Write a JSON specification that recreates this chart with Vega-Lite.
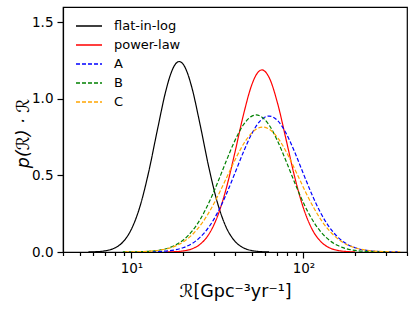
{
  "$schema": "https://vega.github.io/schema/vega-lite/v6.json",
  "width": 344,
  "height": 245,
  "autosize": {"type": "none"},
  "padding": {"left": 63, "top": 7, "right": 8, "bottom": 60},
  "background": "white",
  "config": {
    "view": {"stroke": "black", "strokeWidth": 1.2},
    "axis": {
      "domainColor": "black", "domainWidth": 1.2, "tickColor": "black", "tickWidth": 1.2,
      "labelColor": "black", "titleColor": "black", "labelFont": "DejaVu Sans", "titleFont": "DejaVu Sans",
      "labelFontSize": 13.5, "titleFontSize": 17.5, "titleFontWeight": "normal", "grid": false, "zindex": 1
    },
    "legend": {"labelFont": "DejaVu Sans", "labelFontSize": 13, "labelColor": "black"}
  },
  "data": {"values": [
    {"series": "flat-in-log", "R": 5.623, "p": 0.0006},
    {"series": "flat-in-log", "R": 6.310, "p": 0.0024},
    {"series": "flat-in-log", "R": 7.079, "p": 0.0082},
    {"series": "flat-in-log", "R": 7.943, "p": 0.0247},
    {"series": "flat-in-log", "R": 8.913, "p": 0.0650},
    {"series": "flat-in-log", "R": 10.00, "p": 0.1493},
    {"series": "flat-in-log", "R": 11.22, "p": 0.2988},
    {"series": "flat-in-log", "R": 12.59, "p": 0.5216},
    {"series": "flat-in-log", "R": 14.13, "p": 0.7937},
    {"series": "flat-in-log", "R": 15.85, "p": 1.0528},
    {"series": "flat-in-log", "R": 16.79, "p": 1.1517},
    {"series": "flat-in-log", "R": 17.78, "p": 1.2175},
    {"series": "flat-in-log", "R": 18.97, "p": 1.244},
    {"series": "flat-in-log", "R": 19.95, "p": 1.2276},
    {"series": "flat-in-log", "R": 21.13, "p": 1.1708},
    {"series": "flat-in-log", "R": 22.39, "p": 1.0790},
    {"series": "flat-in-log", "R": 25.12, "p": 0.8270},
    {"series": "flat-in-log", "R": 28.18, "p": 0.5525},
    {"series": "flat-in-log", "R": 31.62, "p": 0.3218},
    {"series": "flat-in-log", "R": 35.48, "p": 0.1634},
    {"series": "flat-in-log", "R": 39.81, "p": 0.0723},
    {"series": "flat-in-log", "R": 44.67, "p": 0.0279},
    {"series": "flat-in-log", "R": 50.12, "p": 0.0094},
    {"series": "flat-in-log", "R": 56.23, "p": 0.0028},
    {"series": "flat-in-log", "R": 63.10, "p": 0.0007},

    {"series": "power-law", "R": 15.85, "p": 0.0006},
    {"series": "power-law", "R": 17.78, "p": 0.0021},
    {"series": "power-law", "R": 19.95, "p": 0.0069},
    {"series": "power-law", "R": 22.39, "p": 0.0200},
    {"series": "power-law", "R": 25.12, "p": 0.0512},
    {"series": "power-law", "R": 28.18, "p": 0.1157},
    {"series": "power-law", "R": 31.62, "p": 0.2315},
    {"series": "power-law", "R": 35.48, "p": 0.4099},
    {"series": "power-law", "R": 39.81, "p": 0.6423},
    {"series": "power-law", "R": 44.67, "p": 0.8907},
    {"series": "power-law", "R": 50.12, "p": 1.0929},
    {"series": "power-law", "R": 53.09, "p": 1.1564},
    {"series": "power-law", "R": 57.39, "p": 1.189},
    {"series": "power-law", "R": 63.10, "p": 1.1405},
    {"series": "power-law", "R": 70.79, "p": 0.9697},
    {"series": "power-law", "R": 79.43, "p": 0.7298},
    {"series": "power-law", "R": 89.13, "p": 0.4860},
    {"series": "power-law", "R": 100.0, "p": 0.2863},
    {"series": "power-law", "R": 112.2, "p": 0.1493},
    {"series": "power-law", "R": 125.9, "p": 0.0689},
    {"series": "power-law", "R": 141.3, "p": 0.0281},
    {"series": "power-law", "R": 158.5, "p": 0.0102},
    {"series": "power-law", "R": 177.8, "p": 0.0033},
    {"series": "power-law", "R": 199.5, "p": 0.0009},

    {"series": "A", "R": 11.22, "p": 0.0004},
    {"series": "A", "R": 12.59, "p": 0.0010},
    {"series": "A", "R": 14.13, "p": 0.0026},
    {"series": "A", "R": 15.85, "p": 0.0061},
    {"series": "A", "R": 17.78, "p": 0.0134},
    {"series": "A", "R": 19.95, "p": 0.0278},
    {"series": "A", "R": 22.39, "p": 0.0538},
    {"series": "A", "R": 25.12, "p": 0.0969},
    {"series": "A", "R": 28.18, "p": 0.1628},
    {"series": "A", "R": 31.62, "p": 0.2553},
    {"series": "A", "R": 35.48, "p": 0.3737},
    {"series": "A", "R": 39.81, "p": 0.5103},
    {"series": "A", "R": 44.67, "p": 0.6503},
    {"series": "A", "R": 50.12, "p": 0.7732},
    {"series": "A", "R": 56.23, "p": 0.8578},
    {"series": "A", "R": 63.10, "p": 0.888},
    {"series": "A", "R": 70.79, "p": 0.8578},
    {"series": "A", "R": 79.43, "p": 0.7732},
    {"series": "A", "R": 89.13, "p": 0.6503},
    {"series": "A", "R": 100.0, "p": 0.5103},
    {"series": "A", "R": 112.2, "p": 0.3737},
    {"series": "A", "R": 125.9, "p": 0.2553},
    {"series": "A", "R": 141.3, "p": 0.1628},
    {"series": "A", "R": 158.5, "p": 0.0969},
    {"series": "A", "R": 177.8, "p": 0.0538},
    {"series": "A", "R": 199.5, "p": 0.0278},
    {"series": "A", "R": 223.9, "p": 0.0134},
    {"series": "A", "R": 251.2, "p": 0.0061},
    {"series": "A", "R": 281.8, "p": 0.0026},
    {"series": "A", "R": 316.2, "p": 0.0010},
    {"series": "A", "R": 354.8, "p": 0.0004},

    {"series": "B", "R": 8.913, "p": 0.0003},
    {"series": "B", "R": 10.00, "p": 0.0007},
    {"series": "B", "R": 11.22, "p": 0.0019},
    {"series": "B", "R": 12.59, "p": 0.0045},
    {"series": "B", "R": 14.13, "p": 0.0101},
    {"series": "B", "R": 15.85, "p": 0.0213},
    {"series": "B", "R": 17.78, "p": 0.0419},
    {"series": "B", "R": 19.95, "p": 0.0772},
    {"series": "B", "R": 22.39, "p": 0.1329},
    {"series": "B", "R": 25.12, "p": 0.2136},
    {"series": "B", "R": 28.18, "p": 0.3209},
    {"series": "B", "R": 31.62, "p": 0.4504},
    {"series": "B", "R": 35.48, "p": 0.5908},
    {"series": "B", "R": 39.81, "p": 0.7241},
    {"series": "B", "R": 44.67, "p": 0.8293},
    {"series": "B", "R": 50.12, "p": 0.8874},
    {"series": "B", "R": 53.09, "p": 0.895},
    {"series": "B", "R": 56.23, "p": 0.8874},
    {"series": "B", "R": 63.10, "p": 0.8293},
    {"series": "B", "R": 70.79, "p": 0.7241},
    {"series": "B", "R": 79.43, "p": 0.5908},
    {"series": "B", "R": 89.13, "p": 0.4504},
    {"series": "B", "R": 100.0, "p": 0.3209},
    {"series": "B", "R": 112.2, "p": 0.2136},
    {"series": "B", "R": 125.9, "p": 0.1329},
    {"series": "B", "R": 141.3, "p": 0.0772},
    {"series": "B", "R": 158.5, "p": 0.0419},
    {"series": "B", "R": 177.8, "p": 0.0213},
    {"series": "B", "R": 199.5, "p": 0.0101},
    {"series": "B", "R": 223.9, "p": 0.0045},
    {"series": "B", "R": 251.2, "p": 0.0019},
    {"series": "B", "R": 281.8, "p": 0.0007},
    {"series": "B", "R": 316.2, "p": 0.0003},

    {"series": "C", "R": 9.183, "p": 0.0004},
    {"series": "C", "R": 10.30, "p": 0.0011},
    {"series": "C", "R": 11.56, "p": 0.0025},
    {"series": "C", "R": 12.97, "p": 0.0056},
    {"series": "C", "R": 14.55, "p": 0.0117},
    {"series": "C", "R": 16.33, "p": 0.0231},
    {"series": "C", "R": 18.32, "p": 0.0429},
    {"series": "C", "R": 20.56, "p": 0.0751},
    {"series": "C", "R": 23.07, "p": 0.1239},
    {"series": "C", "R": 25.88, "p": 0.1927},
    {"series": "C", "R": 29.04, "p": 0.2826},
    {"series": "C", "R": 32.58, "p": 0.3907},
    {"series": "C", "R": 36.56, "p": 0.5093},
    {"series": "C", "R": 41.02, "p": 0.6260},
    {"series": "C", "R": 46.03, "p": 0.7253},
    {"series": "C", "R": 51.64, "p": 0.7923},
    {"series": "C", "R": 57.94, "p": 0.816},
    {"series": "C", "R": 65.01, "p": 0.7923},
    {"series": "C", "R": 72.95, "p": 0.7253},
    {"series": "C", "R": 81.85, "p": 0.6260},
    {"series": "C", "R": 91.83, "p": 0.5093},
    {"series": "C", "R": 103.0, "p": 0.3907},
    {"series": "C", "R": 115.6, "p": 0.2826},
    {"series": "C", "R": 129.7, "p": 0.1927},
    {"series": "C", "R": 145.5, "p": 0.1239},
    {"series": "C", "R": 163.3, "p": 0.0751},
    {"series": "C", "R": 183.2, "p": 0.0429},
    {"series": "C", "R": 205.6, "p": 0.0231},
    {"series": "C", "R": 230.7, "p": 0.0117},
    {"series": "C", "R": 258.8, "p": 0.0056},
    {"series": "C", "R": 290.4, "p": 0.0025},
    {"series": "C", "R": 325.8, "p": 0.0011},
    {"series": "C", "R": 365.6, "p": 0.0004}
  ]},
  "mark": {"type": "line", "interpolate": "monotone", "strokeWidth": 1.2, "clip": true},
  "encoding": {
    "x": {
      "field": "R", "type": "quantitative",
      "scale": {"type": "log", "domain": [4, 400], "nice": false},
      "axis": {
        "title": "ℛ[Gpc⁻³yr⁻¹]",
        "values": [4, 5, 6, 7, 8, 9, 10, 20, 30, 40, 50, 60, 70, 80, 90, 100, 200, 300, 400],
        "labelExpr": "datum.value == 10 ? '10¹' : (datum.value == 100 ? '10²' : '')",
        "tickSize": {"condition": {"test": "datum.value == 10 || datum.value == 100", "value": 6}, "value": 3.5},
        "labelPadding": 3,
        "labelOverlap": false,
        "labelFlush": false,
        "titleX": 172,
        "titleY": 44,
        "titleBaseline": "alphabetic",
        "titleAlign": "center"
      }
    },
    "y": {
      "field": "p", "type": "quantitative",
      "scale": {"domain": [0, 1.6], "nice": false, "zero": true},
      "axis": {
        "title": "p(ℛ) · ℛ",
        "titleFontStyle": "italic",
        "values": [0, 0.5, 1, 1.5],
        "format": ".1f",
        "tickSize": 6,
        "labelPadding": 4,
        "titleX": -35,
        "titleY": 126,
        "titleAngle": -90,
        "titleBaseline": "alphabetic",
        "titleAlign": "center"
      }
    },
    "color": {
      "field": "series", "type": "nominal",
      "scale": {"domain": ["flat-in-log", "power-law", "A", "B", "C"], "range": ["#000000", "#ff0000", "#0000ff", "#008000", "#ffa500"]},
      "legend": {
        "title": null, "orient": "none", "legendX": 12, "legendY": 12.5,
        "symbolType": "stroke", "symbolSize": 676, "symbolStrokeWidth": 1.5,
        "labelOffset": 11, "rowPadding": 5, "clipHeight": 13, "padding": 0
      }
    },
    "strokeDash": {
      "field": "series", "type": "nominal",
      "scale": {"domain": ["flat-in-log", "power-law", "A", "B", "C"], "range": [[1, 0], [1, 0], [4, 2], [4, 2], [4, 2]]},
      "legend": {
        "title": null, "orient": "none", "legendX": 12, "legendY": 12.5,
        "symbolType": "stroke", "symbolSize": 676, "symbolStrokeWidth": 1.5,
        "labelOffset": 11, "rowPadding": 5, "clipHeight": 13, "padding": 0
      }
    }
  }
}
